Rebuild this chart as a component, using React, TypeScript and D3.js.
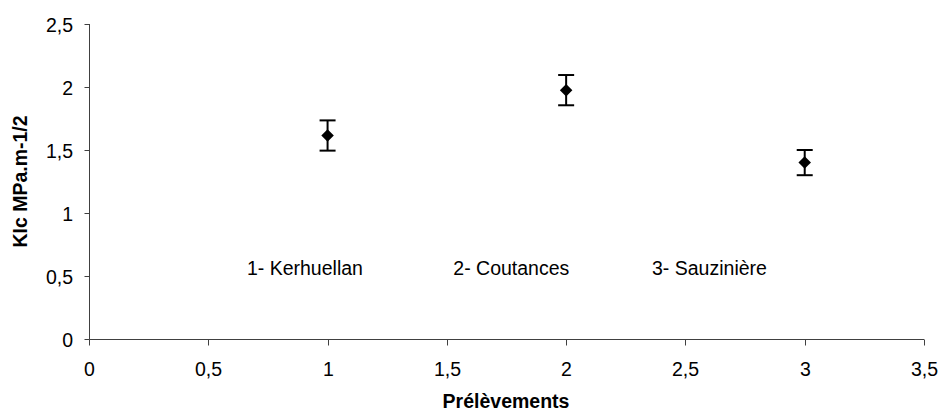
import React from "react";
import * as d3 from "d3";

const sites = ["1- Kerhuellan", "2- Coutances", "3- Sauzinière"];
const xValues = [1, 2, 3];
const kicMeans = [1.615, 1.975, 1.40];
const kicErrors = [0.12, 0.12, 0.10];
const labelX = [0.662, 1.527, 2.36];
const labelY = [0.51, 0.51, 0.51];
const xTicks = [0, 0.5, 1, 1.5, 2, 2.5, 3, 3.5];
const yTicks = [0, 0.5, 1, 1.5, 2, 2.5];

const W = 940;
const H = 414;
const fmt = (v: number) => String(v).replace(".", ",");

export default function App() {
  const x = d3.scaleLinear().domain([0, 3.5]).range([89, 924]);
  const y = d3.scaleLinear().domain([0, 2.5]).range([339, 24]);
  const font = "'Liberation Sans', Arial, sans-serif";
  const axisColor = "#404040";
  const diamond = d3.symbol().type(d3.symbolDiamond2).size(100)() as string;
  const fs = 19.5;

  const x0 = Math.round(x(0)) + 0.5;
  const y0 = Math.round(y(0)) + 0.5;

  return (
    <svg
      width={W}
      height={H}
      style={{ position: "absolute", left: 0, top: 0, background: "#fff" }}
      fontFamily={font}
    >
      {/* axes */}
      <line x1={x0} x2={x0} y1={y(2.5)} y2={y0} stroke={axisColor} strokeWidth={1} />
      <line x1={x0} x2={x(3.5)} y1={y0} y2={y0} stroke={axisColor} strokeWidth={1} />
      {yTicks.map((t) => {
        const yy = Math.round(y(t)) + 0.5;
        return (
          <g key={"y" + t}>
            <line x1={x0 - 5} x2={x0} y1={yy} y2={yy} stroke={axisColor} />
            <text x={73} y={yy + 7} textAnchor="end" fontSize={fs} fill="#000">
              {fmt(t)}
            </text>
          </g>
        );
      })}
      {xTicks.map((t) => {
        const xx = Math.round(x(t)) + 0.5;
        return (
          <g key={"x" + t}>
            <line x1={xx} x2={xx} y1={y0} y2={y0 + 6} stroke={axisColor} />
            <text x={xx} y={376} textAnchor="middle" fontSize={fs} fill="#000">
              {fmt(t)}
            </text>
          </g>
        );
      })}

      {/* axis titles */}
      <text
        x={506}
        y={408}
        textAnchor="middle"
        fontSize={fs}
        fontWeight="bold"
        fill="#000"
      >
        Prélèvements
      </text>
      <text
        transform={`translate(27, ${(y(0) + y(2.5)) / 2}) rotate(-90)`}
        textAnchor="middle"
        fontSize={fs}
        fontWeight="bold"
        fill="#000"
      >
        KIc MPa.m-1/2
      </text>

      {/* annotations */}
      {sites.map((s, i) => (
        <text key={s} x={x(labelX[i])} y={y(labelY[i])} fontSize={fs} fill="#000">
          {s}
        </text>
      ))}

      {/* error bars and markers */}
      {xValues.map((v, i) => {
        const cx = x(v);
        const top = y(kicMeans[i] + kicErrors[i]);
        const bot = y(kicMeans[i] - kicErrors[i]);
        return (
          <g key={"p" + i}>
            <line x1={cx} x2={cx} y1={top} y2={bot} stroke="#000" strokeWidth={2} />
            <line x1={cx - 8} x2={cx + 8} y1={top} y2={top} stroke="#000" strokeWidth={2} />
            <line x1={cx - 8} x2={cx + 8} y1={bot} y2={bot} stroke="#000" strokeWidth={2} />
            <path
              d={diamond}
              transform={`translate(${cx}, ${y(kicMeans[i])})`}
              fill="#000"
            />
          </g>
        );
      })}
    </svg>
  );
}
